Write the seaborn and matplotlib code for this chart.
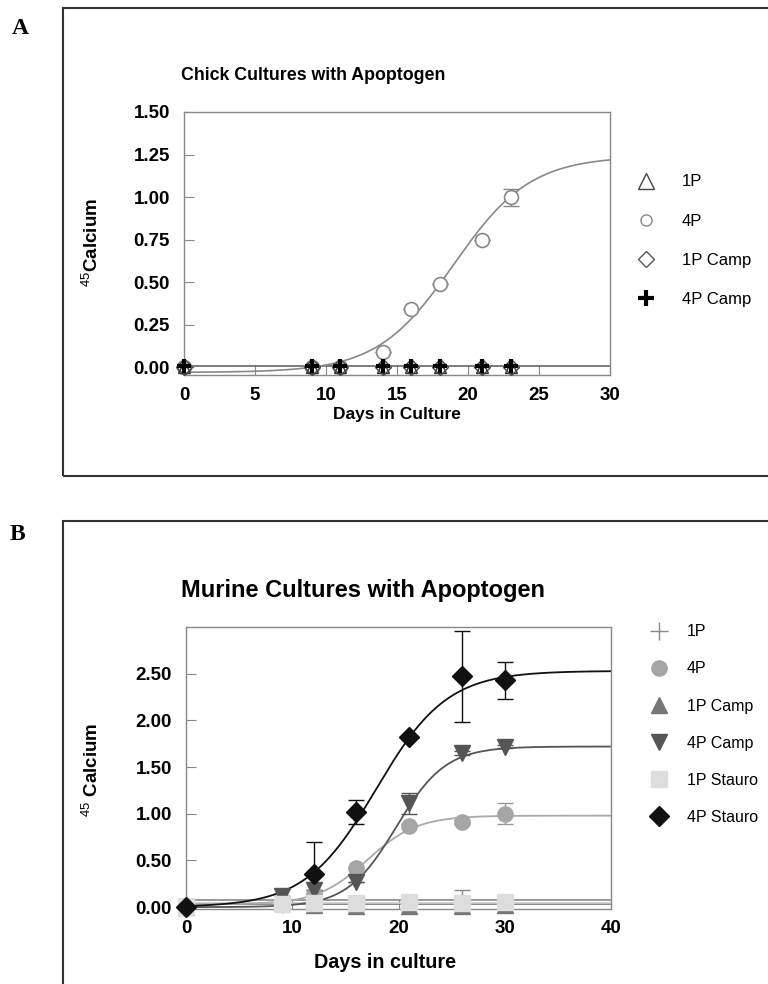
import numpy as np
import matplotlib
matplotlib.use("Agg")
import matplotlib.pyplot as plt
import matplotlib.lines as mlines
import matplotlib.patches as mpatches
import seaborn as sns

# ---- panel A: chick cultures ----
days_a = [0, 9, 11, 14, 16, 18, 21, 23]
a_1p = [0.0, 0.0, 0.0, 0.0, 0.0, 0.0, 0.0, 0.0]
a_4p = [0.0, 0.0, 0.0, 0.09, 0.34, 0.49, 0.75, 1.00]
a_4p_err = [0, 0, 0, 0, 0, 0, 0, 0.05]
a_1p_camp = [0.0, 0.0, 0.0, 0.0, 0.0, 0.0, 0.0, 0.0]
a_4p_camp = [0.01, 0.01, 0.01, 0.01, 0.01, 0.01, 0.01, 0.01]
# sigmoid fit: bottom, top, midpoint, rate
fit_a_4p = (-0.03, 1.24, 19.0, 0.37)
flat_a = 0.01

# ---- panel B: murine cultures ----
days_b = [0, 9, 12, 16, 21, 26, 30]
b_1p = [0.0, 0.02, 0.03, 0.03, 0.05, 0.06, 0.06]
b_1p_err = [0, 0, 0, 0, 0.03, 0.12, 0.03]
b_4p = [0.0, 0.06, 0.14, 0.42, 0.87, 0.91, 1.00]
b_4p_err = [0, 0, 0, 0, 0.02, 0.02, 0.11]
b_1p_camp = [0.0, 0.04, 0.02, 0.01, 0.01, 0.01, 0.02]
b_4p_camp = [0.0, 0.12, 0.18, 0.27, 1.11, 1.65, 1.72]
b_4p_camp_err = [0, 0, 0, 0, 0.11, 0.02, 0.02]
b_1p_stauro = [0.0, 0.03, 0.04, 0.04, 0.05, 0.04, 0.05]
days_stauro = [0, 12, 16, 21, 26, 30]
b_4p_stauro = [0.0, 0.35, 1.02, 1.82, 2.47, 2.43]
b_4p_stauro_err = [0, 0.35, 0.13, 0.0, 0.49, 0.20]
fit_b_4p = (0.03, 0.98, 17.06, 0.425)
fit_b_4p_camp = (0.0, 1.72, 19.8, 0.432)
fit_b_4p_stauro = (0.0, 2.53, 17.9, 0.30)
flat_b_1p = 0.075
flat_b_1p_camp = 0.03
flat_b_1p_stauro = 0.045


def sigmoid(x, p):
    bottom, top, x0, rate = p
    return bottom + (top - bottom) / (1 + np.exp(-rate * (x - x0)))


sns.set_style("ticks")
plt.rcParams['font.family'] = ['Liberation Sans', 'DejaVu Sans']
plt.rcParams['mathtext.fontset'] = 'custom'
plt.rcParams['mathtext.rm'] = 'Liberation Sans'
plt.rcParams['text.color'] = 'black'

fig = plt.figure(figsize=(7.68, 9.84), dpi=100)
W, H = 768.0, 984.0


def fx(px):
    return px / W


def fy(py):
    return 1 - py / H


# outer frames of the two panels
fig.patches.append(mpatches.Rectangle((fx(63), fy(476)), 1.0, fy(8) - fy(476), transform=fig.transFigure,
                                      fill=False, lw=1.5, edgecolor='#333333'))
fig.patches.append(mpatches.Rectangle((fx(63), -0.1), 1.0, fy(521) + 0.1, transform=fig.transFigure,
                                      fill=False, lw=1.5, edgecolor='#333333'))
fig.text(fx(20), fy(28), 'A', family='Liberation Serif', fontweight='bold', fontsize=17, ha='center', va='center')
fig.text(fx(17), fy(535), 'B', family='Liberation Serif', fontweight='bold', fontsize=17, ha='center', va='center')

axA = fig.add_axes([fx(184), fy(375), fx(610) - fx(184), fy(112) - fy(375)])
axB = fig.add_axes([fx(186), fy(909), fx(611) - fx(186), fy(627) - fy(909)])

# ---------- panel A ----------
xs = np.linspace(0, 30, 300)
sns.lineplot(x=xs, y=np.full_like(xs, flat_a), ax=axA, color='#666666', lw=1.2)
sns.lineplot(x=xs, y=sigmoid(xs, fit_a_4p), ax=axA, color='#888888', lw=1.2)
axA.errorbar(days_a, a_4p, yerr=a_4p_err, fmt='none', ecolor='#888888', elinewidth=1, capsize=6)
axA.plot(days_a, a_4p, 'o', ms=10, mfc='white', mec='#888888', mew=1.2, ls='none', zorder=3, clip_on=False)
axA.plot(days_a, a_1p, '^', ms=9, mfc='none', mec='#333333', mew=1.0, ls='none', zorder=4, clip_on=False)
axA.plot(days_a, a_1p_camp, 'D', ms=8, mfc='none', mec='#444444', mew=1.0, ls='none', zorder=4, clip_on=False)
axA.plot(days_a, a_4p_camp, '+', ms=10, mec='black', mew=3.0, ls='none', zorder=5, clip_on=False)
axA.set_xlim(0, 30)
axA.set_ylim(-0.045, 1.5)
axA.set_xticks([0, 5, 10, 15, 20, 25, 30])
axA.set_yticks([0, 0.25, 0.5, 0.75, 1.0, 1.25, 1.5])
axA.set_yticklabels(['0.00', '0.25', '0.50', '0.75', '1.00', '1.25', '1.50'])
axA.set_xlabel('')
axA.set_ylabel('')

handles_a = [
    mlines.Line2D([], [], marker='^', ms=12, mfc='none', mec='#444444', mew=1.0, ls='none', label='1P'),
    mlines.Line2D([], [], marker='o', ms=8, mfc='none', mec='#888888', mew=1.0, ls='none', label='4P'),
    mlines.Line2D([], [], marker='D', ms=8, mfc='none', mec='#555555', mew=1.0, ls='none', label='1P Camp'),
    mlines.Line2D([], [], marker='+', ms=12, mec='black', mew=3.0, ls='none', label='4P Camp'),
]
axA.legend(handles=handles_a, loc='upper left', bbox_to_anchor=(1.02, 0.82), frameon=False,
           fontsize=12, labelspacing=1.45, handletextpad=1.4, handlelength=1.5)

fig.text(fx(313), fy(75), 'Chick Cultures with Apoptogen', fontsize=12.8, fontweight='bold', ha='center', va='center')
fig.text(fx(92), fy(242), r'$^{45}$Calcium', fontsize=13.5, fontweight='bold', rotation=90, ha='center', va='center')
fig.text(fx(397), fy(415), 'Days in Culture', fontsize=12.5, fontweight='bold', ha='center', va='center')

# ---------- panel B ----------
xb = np.linspace(0, 40, 400)
sns.lineplot(x=xb, y=np.full_like(xb, flat_b_1p), ax=axB, color='#888888', lw=1.2)
sns.lineplot(x=xb, y=np.full_like(xb, flat_b_1p_camp), ax=axB, color='#777777', lw=1.2)
sns.lineplot(x=xb, y=np.full_like(xb, flat_b_1p_stauro), ax=axB, color='#cccccc', lw=1.2)
sns.lineplot(x=xb, y=sigmoid(xb, fit_b_4p), ax=axB, color='#aaaaaa', lw=1.3)
sns.lineplot(x=xb, y=sigmoid(xb, fit_b_4p_camp), ax=axB, color='#555555', lw=1.3)
sns.lineplot(x=xb, y=sigmoid(xb, fit_b_4p_stauro), ax=axB, color='#111111', lw=1.3)

axB.errorbar(days_b, b_1p, yerr=b_1p_err, fmt='none', ecolor='#888888', elinewidth=1, capsize=6)
axB.errorbar(days_b, b_4p, yerr=b_4p_err, fmt='none', ecolor='#999999', elinewidth=1, capsize=6)
axB.errorbar(days_b, b_4p_camp, yerr=b_4p_camp_err, fmt='none', ecolor='#555555', elinewidth=1, capsize=6)
axB.errorbar(days_stauro, b_4p_stauro, yerr=b_4p_stauro_err, fmt='none', ecolor='#111111', elinewidth=1, capsize=6)

axB.plot(days_b, b_1p, '+', ms=12, mec='#888888', mew=1.0, ls='none', zorder=3, clip_on=False)
axB.plot(days_b, b_4p, 'o', ms=11, mfc='#a6a6a6', mec='#a6a6a6', ls='none', zorder=3, clip_on=False)
axB.plot(days_b, b_1p_camp, '^', ms=11, mfc='#777777', mec='#777777', ls='none', zorder=3, clip_on=False)
axB.plot(days_b, b_4p_camp, 'v', ms=12, mfc='#555555', mec='#555555', ls='none', zorder=4, clip_on=False)
axB.plot(days_b, b_1p_stauro, 's', ms=11, mfc='#dddddd', mec='#dddddd', ls='none', zorder=5, clip_on=False)
axB.plot(days_stauro, b_4p_stauro, 'D', ms=10, mfc='#111111', mec='#111111', ls='none', zorder=6, clip_on=False)

axB.set_xlim(0, 40)
axB.set_ylim(-0.02, 3.0)
axB.set_xticks([0, 10, 20, 30, 40])
axB.set_yticks([0, 0.5, 1.0, 1.5, 2.0, 2.5])
axB.set_yticklabels(['0.00', '0.50', '1.00', '1.50', '2.00', '2.50'])
axB.set_xlabel('')
axB.set_ylabel('')

handles_b = [
    mlines.Line2D([], [], marker='+', ms=13, mec='#888888', mew=1.0, ls='none', label='1P'),
    mlines.Line2D([], [], marker='o', ms=11, mfc='#a6a6a6', mec='#a6a6a6', ls='none', label='4P'),
    mlines.Line2D([], [], marker='^', ms=11, mfc='#777777', mec='#777777', ls='none', label='1P Camp'),
    mlines.Line2D([], [], marker='v', ms=11, mfc='#555555', mec='#555555', ls='none', label='4P Camp'),
    mlines.Line2D([], [], marker='s', ms=11, mfc='#dddddd', mec='#dddddd', ls='none', label='1P Stauro'),
    mlines.Line2D([], [], marker='D', ms=10, mfc='#111111', mec='#111111', ls='none', label='4P Stauro'),
]
axB.legend(handles=handles_b, loc='upper left', bbox_to_anchor=(1.05, 1.06), frameon=False,
           fontsize=11.5, labelspacing=1.38, handletextpad=1.0, handlelength=1.5)

fig.text(fx(363), fy(590), 'Murine Cultures with Apoptogen', fontsize=17, fontweight='bold', ha='center', va='center')
fig.text(fx(92), fy(770), r'$^{45}$ Calcium', fontsize=13.5, fontweight='bold', rotation=90, ha='center', va='center')
fig.text(fx(385), fy(962), 'Days in culture', fontsize=14.2, fontweight='bold', ha='center', va='center')

# axis styling after ticks are set so the bold labels stick
for ax in (axA, axB):
    for s in ax.spines.values():
        s.set_color('#888888')
        s.set_linewidth(1.0)
    ax.tick_params(direction='in', length=7, color='#888888', labelcolor='black', labelsize=13.5)
    for lab in ax.get_xticklabels() + ax.get_yticklabels():
        lab.set_fontweight('bold')
axA.tick_params(axis='y', pad=10)
axA.tick_params(axis='x', pad=9)
axB.tick_params(axis='y', pad=10)
axB.tick_params(axis='x', pad=8)

fig.savefig('out.png', dpi=100)
